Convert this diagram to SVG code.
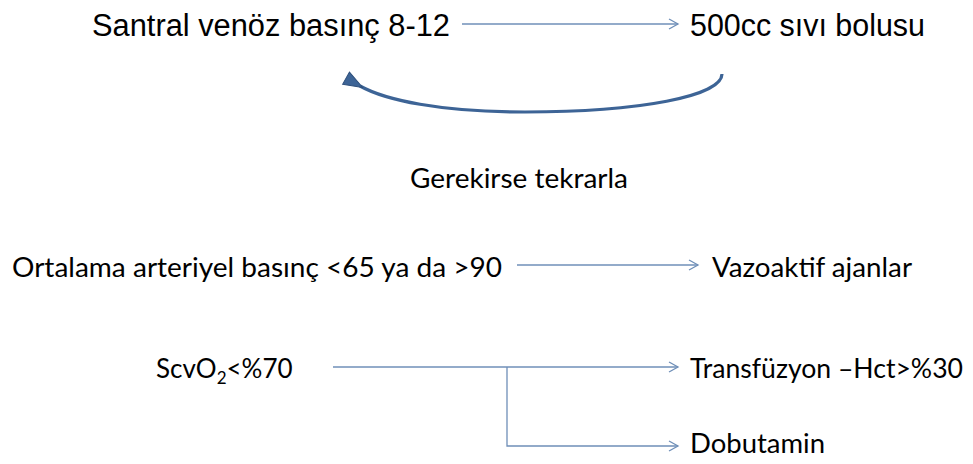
<svg xmlns="http://www.w3.org/2000/svg" width="973" height="464" viewBox="0 0 973 464">
<style>
.a{font-family:"Liberation Sans",Arial,sans-serif;font-size:31px;fill:#000}
.c{font-family:Lato,"Open Sans",sans-serif;font-size:26px;fill:#000}
.ln{stroke:#6f8fb8;stroke-width:1.3;fill:none}
</style>
<defs>
<marker id="op" markerWidth="12" markerHeight="12" refX="10" refY="6" orient="auto" markerUnits="userSpaceOnUse">
<path d="M1,1 L10,6 L1,11" fill="none" stroke="#6f8fb8" stroke-width="1.3"/>
</marker>
<marker id="fh" markerWidth="24" markerHeight="18" refX="4" refY="9" orient="auto" markerUnits="userSpaceOnUse">
<path d="M20,2 L1,9 L20,16 Z" fill="#3d6496" stroke="#2f507c" stroke-width="1"/>
</marker>
</defs>
<g id="n1"><text class="a" x="92" y="36" textLength="358" lengthAdjust="spacingAndGlyphs">Santral venöz basınç 8-12</text></g>
<g id="n2"><text class="a" x="690" y="36" textLength="235" lengthAdjust="spacingAndGlyphs">500cc sıvı bolusu</text></g>
<g id="n3"><text class="c" x="410" y="188" textLength="218" lengthAdjust="spacingAndGlyphs">Gerekirse tekrarla</text></g>
<g id="n4"><text class="c" x="12" y="277" textLength="490" lengthAdjust="spacingAndGlyphs">Ortalama arteriyel basınç &lt;65 ya da &gt;90</text></g>
<g id="n5"><text class="c" x="712" y="277" textLength="200" lengthAdjust="spacingAndGlyphs">Vazoaktif ajanlar</text></g>
<g id="n6"><text class="c" x="156" y="378">ScvO<tspan font-size="17" dy="6">2</tspan><tspan dy="-6">&lt;%70</tspan></text></g>
<g id="n7"><text class="c" x="690" y="378" textLength="273" lengthAdjust="spacingAndGlyphs">Transfüzyon –Hct&gt;%30</text></g>
<g id="n8"><text class="c" x="690" y="453" textLength="135" lengthAdjust="spacingAndGlyphs">Dobutamin</text></g>
<g id="connectors">
<line class="ln" x1="462" y1="24" x2="678" y2="24" marker-end="url(#op)"/>
<path d="M722,74 C722,96 640,112 525,112 C440,112 385,100 360,86" fill="none" stroke="#3d6496" stroke-width="3.2" marker-end="url(#fh)"/>
<line class="ln" x1="517" y1="265" x2="698" y2="265" marker-end="url(#op)"/>
<line class="ln" x1="333" y1="367" x2="678" y2="367" marker-end="url(#op)"/>
<polyline class="ln" points="507,367 507,446 678,446" marker-end="url(#op)"/>
</g>
</svg>
